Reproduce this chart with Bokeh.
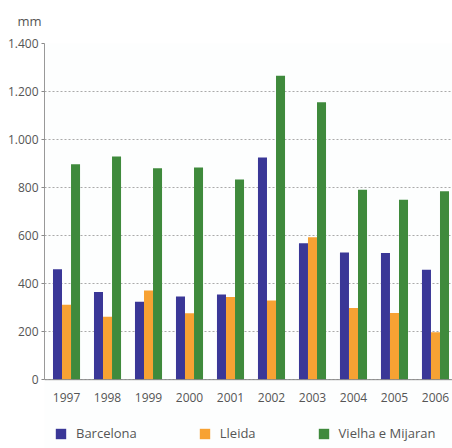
from bokeh.plotting import figure
from bokeh.models import ColumnDataSource, FixedTicker, Legend, LegendItem, Title, Span
from bokeh.core.properties import value
from bokeh.transform import dodge
from bokeh.embed import file_html
from bokeh.resources import INLINE

years = ["1997", "1998", "1999", "2000", "2001", "2002", "2003", "2004", "2005", "2006"]
barcelona = [460, 365, 325, 346, 355, 925, 568, 530, 528, 458]
lleida = [312, 262, 371, 277, 344, 330, 593, 299, 278, 197]
vielha = [897, 929, 881, 884, 834, 1266, 1155, 791, 749, 785]
series_names = ["Barcelona", "Lleida", "Vielha e Mijaran"]
y_ticks = [0, 200, 400, 600, 800, 1000, 1200, 1400]
y_tick_labels = ["0", "200", "400", "600", "800", "1.000", "1.200", "1.400"]
unit_label = "mm"

colors = ["#3a3797", "#f7a233", "#3f8a3c"]
FONT = "Open Sans"
TXT = "#555555"

idx = list(range(len(years)))
zeros = [0] * len(years)
src = ColumnDataSource(dict(x=idx, base=zeros, year=years,
                            barcelona=barcelona, lleida=lleida, vielha=vielha))

p = figure(width=452, height=448, output_backend="svg", toolbar_location=None,
           x_range=(-0.537, 9.415), y_range=(-286.6, 1400), x_axis_location=None,
           min_border_left=44, min_border_right=0, min_border_top=42, min_border_bottom=0)
p.outline_line_color = None
p.background_fill_color = "#fdfefe"
p.border_fill_color = "white"

bw = 0.22
renderers = []
for off, col, c in zip([-bw, 0, bw], ["barcelona", "lleida", "vielha"], colors):
    r = p.vbar(x=dodge("x", off), top=col, width=bw, source=src, fill_color=c, line_color=None)
    renderers.append(r)

# category axis: baseline + year labels
p.add_layout(Span(location=0, dimension="width", line_color="#888888", line_width=1))
p.text(x="x", y="base", text="year", source=src, text_align="center", text_baseline="middle",
       y_offset=18, text_font=value(FONT), text_font_size="12px", text_color=TXT)

p.yaxis.ticker = FixedTicker(ticks=y_ticks)
p.yaxis.bounds = (0, 1400)
p.yaxis.major_label_overrides = {t: l for t, l in zip(y_ticks, y_tick_labels)}
p.yaxis.minor_tick_line_color = None
p.yaxis.major_tick_in = 0
p.yaxis.major_tick_out = 3
p.yaxis.major_tick_line_color = "#888888"
p.yaxis.axis_line_color = "#999999"
p.yaxis.major_label_standoff = 3
p.yaxis.major_label_text_font = FONT
p.yaxis.major_label_text_font_size = "12px"
p.yaxis.major_label_text_color = TXT

p.xgrid.grid_line_color = None
p.ygrid.grid_line_color = "#aaaaaa"
p.ygrid.grid_line_dash = "2 2"
p.ygrid.grid_line_width = 1

p.add_layout(Title(text=unit_label, align="left", offset=-27, standoff=23, vertical_align="top",
                   text_font=FONT, text_font_size="13px", text_color=TXT,
                   text_font_style="normal"), "above")

legend = Legend(items=[LegendItem(label=n, renderers=[r]) for n, r in zip(series_names, renderers)],
                location=(10, 6), orientation="horizontal", padding=0, margin=0,
                spacing=61, glyph_width=13, glyph_height=13, label_height=13,
                label_standoff=9, border_line_color=None, background_fill_alpha=0,
                label_text_font=FONT, label_text_font_size="13px", label_text_color=TXT)
p.add_layout(legend, "center")

open("out.html", "w").write(file_html(p, INLINE))
